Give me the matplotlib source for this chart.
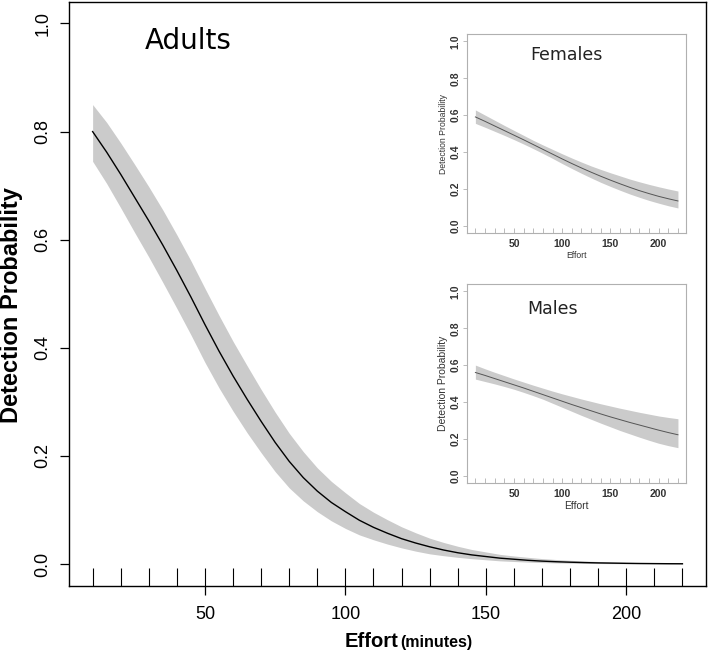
import matplotlib
matplotlib.use("Agg")
import matplotlib.pyplot as plt

# effort values (minutes) of the survey rug, also the x grid of the inset curves
effort = [10, 20, 30, 40, 50, 60, 70, 80, 90, 100, 110,
          120, 130, 140, 150, 160, 170, 180, 190, 200, 210, 220]

# Adults: read every 5 minutes off the fitted curve
adult_x = [10, 15, 20, 25, 30, 35, 40, 45, 50, 55, 60, 65, 70, 75, 80, 85, 90, 95,
           100, 105, 110, 115, 120, 125, 130, 135, 140, 145, 150, 155, 160, 165,
           170, 175, 180, 185, 190, 195, 200, 205, 210, 215, 220]
adult_p = [0.800, 0.762, 0.721, 0.678, 0.635, 0.590, 0.543, 0.494, 0.443, 0.394,
           0.348, 0.305, 0.264, 0.225, 0.190, 0.160, 0.135, 0.114, 0.097, 0.081,
           0.068, 0.057, 0.047, 0.039, 0.032, 0.026, 0.021, 0.017, 0.014, 0.011,
           0.009, 0.007, 0.0055, 0.0044, 0.0035, 0.0028, 0.0022, 0.0018, 0.0014,
           0.0011, 0.0009, 0.0007, 0.0006]
adult_lo = [0.745, 0.704, 0.659, 0.613, 0.568, 0.521, 0.473, 0.424, 0.373, 0.326,
            0.283, 0.243, 0.206, 0.171, 0.141, 0.117, 0.097, 0.080, 0.066, 0.054,
            0.045, 0.037, 0.030, 0.024, 0.019, 0.0155, 0.0125, 0.010, 0.008, 0.006,
            0.0048, 0.0037, 0.0028, 0.0022, 0.0017, 0.0013, 0.001, 0.0008, 0.0006,
            0.0005, 0.0004, 0.0003, 0.0003]
adult_hi = [0.850, 0.817, 0.779, 0.739, 0.698, 0.655, 0.609, 0.561, 0.510, 0.460,
            0.412, 0.367, 0.323, 0.281, 0.242, 0.208, 0.178, 0.153, 0.132, 0.112,
            0.096, 0.082, 0.069, 0.058, 0.048, 0.040, 0.033, 0.027, 0.0225, 0.018,
            0.015, 0.0125, 0.0102, 0.0085, 0.007, 0.0058, 0.0048, 0.004, 0.0033,
            0.0027, 0.0023, 0.0019, 0.0016]

# Females
fem_p = [0.590, 0.566, 0.541, 0.516, 0.491, 0.466, 0.440, 0.414, 0.388, 0.362, 0.337,
         0.313, 0.290, 0.268, 0.247, 0.227, 0.208, 0.190, 0.174, 0.159, 0.146, 0.134]
fem_lo = [0.555, 0.534, 0.512, 0.490, 0.467, 0.443, 0.418, 0.392, 0.365, 0.337, 0.310,
          0.284, 0.259, 0.235, 0.213, 0.192, 0.172, 0.154, 0.137, 0.122, 0.108, 0.096]
fem_hi = [0.628, 0.600, 0.572, 0.544, 0.517, 0.490, 0.463, 0.438, 0.414, 0.390, 0.367,
          0.345, 0.324, 0.305, 0.287, 0.270, 0.253, 0.238, 0.224, 0.211, 0.199, 0.188]

# Males
male_p = [0.560, 0.544, 0.527, 0.510, 0.493, 0.476, 0.458, 0.440, 0.422, 0.404, 0.386,
          0.369, 0.352, 0.335, 0.319, 0.304, 0.289, 0.275, 0.261, 0.247, 0.234, 0.222]
male_lo = [0.524, 0.511, 0.498, 0.484, 0.469, 0.452, 0.434, 0.415, 0.393, 0.371, 0.349,
           0.327, 0.306, 0.285, 0.265, 0.245, 0.227, 0.209, 0.192, 0.176, 0.163, 0.152]
male_hi = [0.600, 0.580, 0.561, 0.543, 0.525, 0.508, 0.491, 0.475, 0.459, 0.444, 0.430,
           0.416, 0.403, 0.390, 0.378, 0.366, 0.355, 0.344, 0.334, 0.324, 0.316, 0.309]

xticks = [50, 100, 150, 200]
yticks = [0.0, 0.2, 0.4, 0.6, 0.8, 1.0]

BAND = "#cbcbcb"
ARIAL = "Liberation Sans"

fig = plt.figure(figsize=(7.08, 6.59), dpi=100)

# ---- main panel (adults)
ax = fig.add_axes([0.0975, 0.1112, 0.8997, 0.886])
ax.fill_between(adult_x, adult_lo, adult_hi, color=BAND, lw=0)
ax.plot(adult_x, adult_p, color="black", lw=1.0)
ax.vlines(effort, 0, 0.03, transform=ax.get_xaxis_transform(), color="black", lw=0.8)
ax.set_xlim(1.6, 228.4)
ax.set_ylim(-0.04, 1.04)
ax.set_xticks(xticks)
ax.set_yticks(yticks)
ax.set_xticklabels([str(v) for v in xticks], family=ARIAL, fontsize=13)
ax.set_yticklabels(["%.1f" % v for v in yticks], family=ARIAL, fontsize=13,
                   rotation=90, va="center")
ax.tick_params(axis="x", length=6.3, width=0.9, pad=8)
ax.tick_params(axis="y", length=6.5, width=0.9, pad=6)
for s in ax.spines.values():
    s.set_linewidth(1.0)
ax.text(28.4, 0.952, "Adults", fontsize=20, family="DejaVu Sans")
ax.set_ylabel("Detection Probability", family=ARIAL, fontsize=17,
              fontweight="bold")
ax.yaxis.set_label_coords(-0.072, 0.48)
fig.text(0.562, 0.018, "Effort", family=ARIAL, fontsize=14.5, fontweight="bold",
         ha="right", va="baseline")
fig.text(0.566, 0.018, "(minutes)", family=ARIAL, fontsize=11.5, fontweight="bold",
         ha="left", va="baseline")


def inset(rect, p, lo, hi, title, tx, ty, lab_size):
    a = fig.add_axes(rect)
    a.set_facecolor("white")
    a.fill_between(effort, lo, hi, color=BAND, lw=0)
    a.plot(effort, p, color="#555555", lw=0.7)
    a.vlines(effort, 0, 0.025, transform=a.get_xaxis_transform(), color="#b0b0b0", lw=0.6)
    a.set_xlim(1.6, 228.4)
    a.set_ylim(-0.04, 1.04)
    a.set_xticks(xticks)
    a.set_yticks(yticks)
    a.set_xticklabels([str(v) for v in xticks], family=ARIAL, fontsize=7.5,
                      fontweight="bold", color="#333333")
    a.set_yticklabels(["%.1f" % v for v in yticks], family=ARIAL, fontsize=7.5,
                      fontweight="bold", color="#333333", rotation=90, va="center")
    a.tick_params(axis="x", length=0, pad=4)
    a.tick_params(axis="y", length=3, width=0.6, color="#b0b0b0", pad=2)
    for s in a.spines.values():
        s.set_color("#b0b0b0")
        s.set_linewidth(0.8)
    a.text(tx, ty, title, fontsize=12.5, family="DejaVu Sans", color="#222222")
    a.set_ylabel("Detection Probability", family=ARIAL, fontsize=lab_size,
                 color="#333333", labelpad=2)
    a.set_xlabel("Effort", family=ARIAL, fontsize=lab_size, color="#333333", labelpad=2)
    return a


inset([0.660, 0.6464, 0.309, 0.302], fem_p, fem_lo, fem_hi, "Females", 66.6, 0.897, 6.2)
inset([0.660, 0.267, 0.309, 0.302], male_p, male_lo, male_hi, "Males", 63.8, 0.88, 7.5)

fig.savefig("out.png", dpi=100)
